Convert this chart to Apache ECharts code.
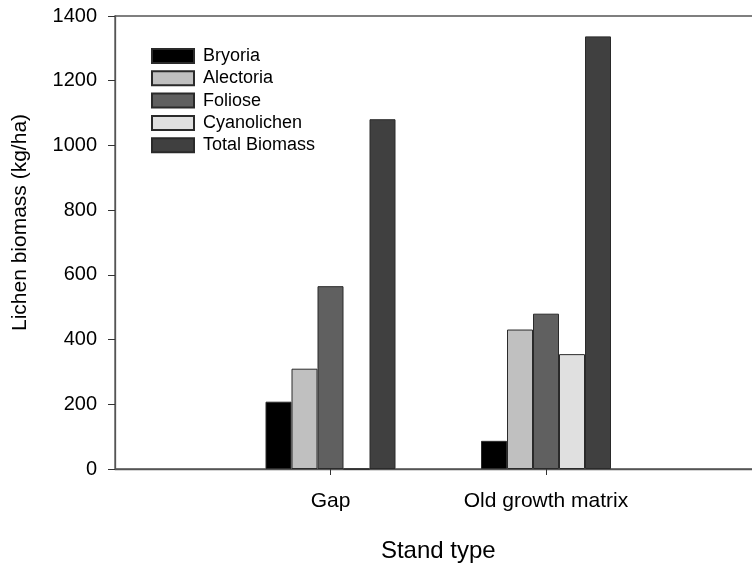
<!DOCTYPE html>
<html>
<head>
    <meta charset="utf-8">
    <title>Lichen biomass</title>
    <script type="text/javascript" src="https://cdn.jsdelivr.net/npm/echarts@6/dist/echarts.min.js"></script>
    <style>
        html, body { margin: 0; padding: 0; background: #fff; }
    </style>
</head>
<body>
    <div id="chart" style="width: 752px;height:563px;"></div>
</body>
<script type="text/javascript">
    var categories = ['Gap', 'Old growth matrix'];
    var seriesNames = ['Bryoria', 'Alectoria', 'Foliose', 'Cyanolichen', 'Total Biomass'];
    var bryoria = [208, 87];
    var alectoria = [310, 431];
    var foliose = [565, 480];
    var cyanolichen = [0, 355];
    var totalBiomass = [1081, 1337];
    var colors = ['#000000', '#c0c0c0', '#606060', '#e0e0e0', '#404040'];

    // empty slots on both ends so the two groups sit at 1/3 and 2/3 of the axis
    var axisData = [''].concat(categories, ['']);
    function pad(arr) {
        return [null].concat(arr, [null]);
    }

    var values = [bryoria, alectoria, foliose, cyanolichen, totalBiomass];
    var font = 'Liberation Sans, Arial, sans-serif';

    var chart = echarts.init(document.getElementById('chart'));
    chart.setOption({
        animation: false,
        textStyle: { fontFamily: font },
        grid: {
            left: 115,
            top: 16,
            width: 646.5,
            height: 453,
            outerBoundsMode: 'none',
            show: true,
            borderColor: '#555',
            borderWidth: 1.3
        },
        legend: {
            orient: 'vertical',
            left: 146,
            top: 42,
            itemWidth: 42,
            itemHeight: 14,
            itemGap: 4.3,
            icon: 'rect',
            data: seriesNames,
            textStyle: { fontSize: 18, color: '#000', fontFamily: font, padding: [0, 0, 0, 4] }
        },
        xAxis: {
            type: 'category',
            data: axisData,
            boundaryGap: false,
            name: 'Stand type',
            nameLocation: 'middle',
            nameGap: 70,
            nameTextStyle: { fontSize: 24, color: '#000' },
            axisLine: { lineStyle: { color: '#555', width: 1.3 } },
            axisTick: {
                length: 6,
                interval: function (index) { return index === 1 || index === 2; },
                lineStyle: { color: '#333' }
            },
            axisLabel: { fontSize: 21, color: '#000', margin: 22, interval: 0 },
            splitLine: { show: false }
        },
        yAxis: {
            type: 'value',
            min: 0,
            max: 1400,
            interval: 200,
            name: 'Lichen biomass (kg/ha)',
            nameLocation: 'middle',
            nameGap: 84,
            nameTextStyle: { fontSize: 21, color: '#000', padding: [0, 0, 0, 40] },
            axisLine: { show: true, lineStyle: { color: '#555', width: 1.3 } },
            axisTick: { show: true, length: 7, lineStyle: { color: '#333' } },
            axisLabel: {
                fontSize: 20,
                color: '#000',
                margin: 18,
                formatter: function (v) { return String(v); }
            },
            splitLine: { show: false }
        },
        series: seriesNames.map(function (name, i) {
            return {
                name: name,
                type: 'bar',
                data: pad(values[i]),
                barWidth: 26,
                barGap: '0%',
                itemStyle: {
                    color: colors[i],
                    borderColor: '#2a2a2a',
                    borderWidth: 1
                }
            };
        })
    });
</script>
</html>
